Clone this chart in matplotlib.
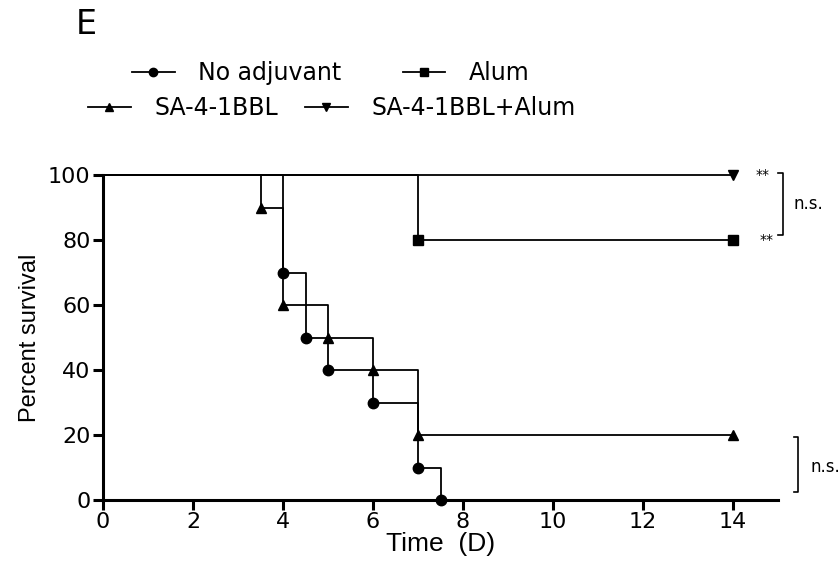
import matplotlib
matplotlib.use("Agg")
import matplotlib.pyplot as plt

plt.rcParams['font.family'] = ['DejaVu Sans']

# Data (Kaplan-Meier steps)
labels = ["No adjuvant", "Alum", "SA-4-1BBL", "SA-4-1BBL+Alum"]
t_noadj = [0, 4, 4.5, 5, 6, 7, 7.5]
s_noadj = [100, 70, 50, 40, 30, 10, 0]
t_alum = [0, 7, 14]
s_alum = [100, 80, 80]
t_sa = [0, 3.5, 4, 5, 6, 7, 14]
s_sa = [100, 90, 60, 50, 40, 20, 20]
t_saalum = [0, 14]
s_saalum = [100, 100]
xticks = [0, 2, 4, 6, 8, 10, 12, 14]
yticks = [0, 20, 40, 60, 80, 100]

fig = plt.figure(figsize=(8.4, 5.65), dpi=100)
ax = fig.add_axes([103/840, 1-500/565, (778-103)/840, (500-175)/565])

lw = 1.3
ms = 7.5
series = [
    (t_noadj, s_noadj, 'o'),
    (t_alum, s_alum, 's'),
    (t_sa, s_sa, '^'),
    (t_saalum, s_saalum, 'v'),
]
handles = []
for (t, s, m), lab in zip(series, labels):
    ax.step(t, s, where='post', color='black', lw=lw, clip_on=False, zorder=3)
    ax.plot(t[1:], s[1:], linestyle='none', marker=m, color='black', ms=ms, clip_on=False, zorder=4)
    h, = ax.plot([], [], color='black', lw=lw, marker=m, ms=6, label=lab)
    handles.append(h)

ax.set_xlim(0, 15)
ax.set_ylim(0, 100)
ax.set_xticks(xticks)
ax.set_yticks(yticks)
ax.spines['top'].set_visible(False)
ax.spines['right'].set_visible(False)
for sp in ['left', 'bottom']:
    ax.spines[sp].set_linewidth(2.2)
ax.tick_params(axis='both', direction='out', width=2.2, length=7, labelsize=16, pad=2)

ax.set_xlabel("Time  (D)", fontsize=19, labelpad=0, family=['Liberation Sans', 'DejaVu Sans'])
ax.set_ylabel("Percent survival", fontsize=17, labelpad=5, family=['Liberation Sans', 'DejaVu Sans'])

# significance annotations
ax.text(14.5, 100, "**", fontsize=10, va='center', ha='left', clip_on=False)
ax.text(14.6, 80, "**", fontsize=10, va='center', ha='left', clip_on=False)
ax.plot([15.0, 15.1, 15.1, 15.0], [100.6, 100.6, 81.5, 81.5], color='black', lw=1.2, clip_on=False)
ax.text(15.35, 91, "n.s.", fontsize=12, va='center', ha='left', clip_on=False)
ax.plot([15.35, 15.45, 15.45, 15.35], [19.4, 19.4, 2.5, 2.5], color='black', lw=1.2, clip_on=False)
ax.text(15.72, 10, "n.s.", fontsize=12, va='center', ha='left', clip_on=False)

# legends (two rows)
common = dict(frameon=False, fontsize=17, handlelength=1.8, handletextpad=1.0,
              borderpad=0, borderaxespad=0, numpoints=1, ncol=2)
leg1 = fig.legend(handles=handles[:2], loc='center left', bbox_to_anchor=(132/840, 1-73/565),
                  columnspacing=2.6, **common)
leg2 = fig.legend(handles=handles[2:], loc='center left', bbox_to_anchor=(88/840, 1-108/565),
                  columnspacing=1.15, **common)

fig.text(86/840, 1-24/565, "E", fontsize=24, va='center', ha='center')

fig.savefig("out.png", dpi=100)
